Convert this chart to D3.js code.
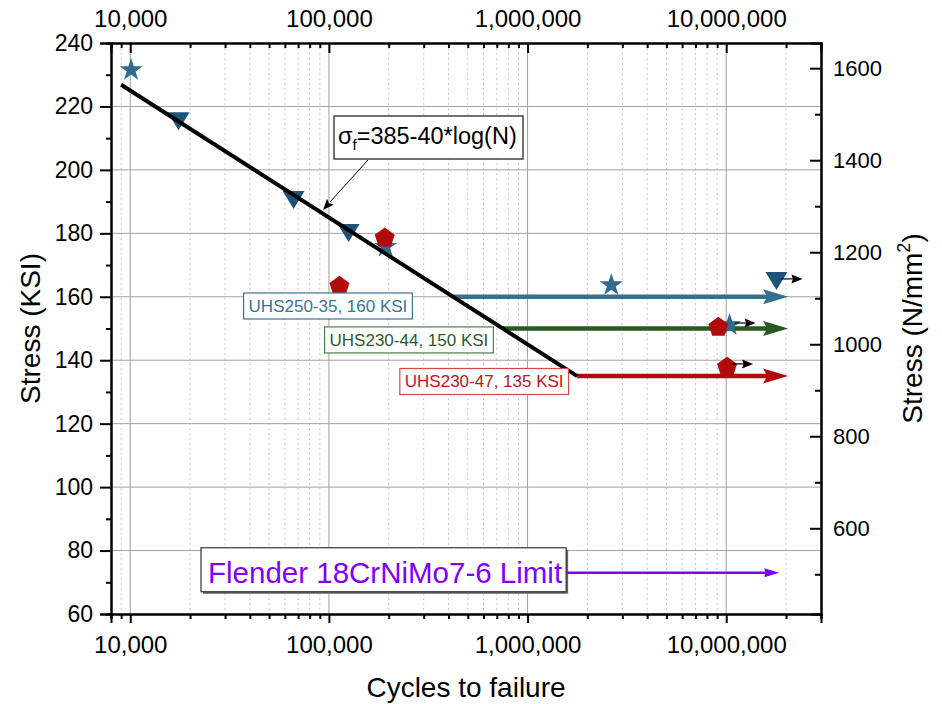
<!DOCTYPE html>
<html>
<head>
<meta charset="utf-8">
<script src="https://cdn.jsdelivr.net/npm/d3@7"></script>
<style>
  body { margin: 0; background: #fff; }
  text { font-family: Arial, "Liberation Sans", sans-serif; }
</style>
</head>
<body>
<svg id="chart" width="942" height="704"></svg>
<script>
// ---- data ----
const starN = [10100, 193000, 2640000, 10400000];
const starS = [231.5, 175.8, 163.7, 151.1];
const triN = [17500, 66400, 125600, 17900000];
const triS = [215.3, 190.5, 180.1, 165.0];
const pentN = [113000, 191000, 9130000, 10100000];
const pentS = [163.7, 178.9, 150.8, 138.2];
const runoutN = [17900000, 10400000, 10100000];
const runoutS = [165.0, 151.1, 138.2];

const fitA = 385, fitB = 40;           // sigma_f = A - B*log(N)
const fitN = [9000, 1778279];

const limitNames = ["UHS250-35, 160 KSI", "UHS230-44, 150 KSI", "UHS230-47, 135 KSI"];
const limitS = [160, 150, 135];
const limitEndN = 20500000;

const flenderLabel = "Flender 18CrNiMo7-6 Limit";
const flenderS = 73;
const flenderEndN = 18500000;

const xMajor = [1e4, 1e5, 1e6, 1e7];
const yMajor = [60, 80, 100, 120, 140, 160, 180, 200, 220, 240];
const yMinor = [70, 90, 110, 130, 150, 170, 190, 210, 230];
const mpaMajor = [600, 800, 1000, 1200, 1400, 1600];
const mpaMinor = [500, 700, 900, 1100, 1300, 1500];
const KSI_TO_MPA = 6.894757;

// ---- layout ----
const L = 111, R = 821, T = 43, B = 614;
const svg = d3.select("#chart");
const x = d3.scaleLog().domain([8000, 3e7]).range([L, R]);
const y = d3.scaleLinear().domain([60, 240]).range([B, T]);
const yR = d3.scaleLinear().domain([60 * KSI_TO_MPA, 240 * KSI_TO_MPA]).range([B, T]);

const xMinor = [];
for (let e = 3; e <= 7; e++) for (let m = 2; m <= 9; m++) {
  const v = m * Math.pow(10, e);
  if (v >= 8000 && v <= 3e7) xMinor.push(v);
}

const col = {
  blue: "#34708f", blueTri: "#1b5379", blueStar: "#2e6b8e",
  green: "#2a5a20", red: "#b00a0a", purple: "#8000ff"
};

// ---- grid ----
const grid = svg.append("g");
grid.selectAll("line.xmin").data(xMinor).join("line")
  .attr("x1", d => x(d)).attr("x2", d => x(d)).attr("y1", T).attr("y2", B)
  .attr("stroke", "#c8c8c8").attr("stroke-width", 1).attr("stroke-dasharray", "2,3");
grid.selectAll("line.xmaj").data(xMajor).join("line")
  .attr("x1", d => x(d)).attr("x2", d => x(d)).attr("y1", T).attr("y2", B)
  .attr("stroke", "#a0a0a0").attr("stroke-width", 1);
grid.selectAll("line.ymaj").data(yMajor.slice(1, -1)).join("line")
  .attr("x1", L).attr("x2", R).attr("y1", d => y(d)).attr("y2", d => y(d))
  .attr("stroke", "#a0a0a0").attr("stroke-width", 1);

// ---- arrow helper ----
function arrowHead(g, xt, yt, len, hw, notch, color) {
  g.append("path")
    .attr("d", `M${xt},${yt} L${xt - len},${yt - hw} L${xt - len + notch},${yt} L${xt - len},${yt + hw} Z`)
    .attr("fill", color);
}

// ---- endurance limits (horizontal arrows) ----
const limitColors = [col.blue, col.green, col.red];
const limG = svg.append("g");
limitS.forEach((s, i) => {
  const n0 = Math.pow(10, (fitA - s) / fitB);
  const x0 = x(n0), x1 = x(limitEndN), yy = y(s);
  limG.append("line").attr("x1", x0).attr("x2", x1 - 18).attr("y1", yy).attr("y2", yy)
    .attr("stroke", limitColors[i]).attr("stroke-width", 4.5);
  arrowHead(limG, x1, yy, 25, 7.5, 4, limitColors[i]);
});

// ---- markers ----
const mk = svg.append("g");
const starSym = d3.symbol().type(d3.symbolStar).size(165)();
mk.selectAll("path.star").data(starN.map((n, i) => [n, starS[i]])).join("path")
  .attr("d", starSym).attr("transform", d => `translate(${x(d[0])},${y(d[1])})`)
  .attr("fill", col.blueStar);

const pentPath = (() => {
  const r = 10.5, pts = [];
  for (let k = 0; k < 5; k++) {
    const a = -Math.PI / 2 + k * 2 * Math.PI / 5;
    pts.push([r * Math.cos(a), r * Math.sin(a) + 1.2]);
  }
  return "M" + pts.map(p => p.join(",")).join("L") + "Z";
})();
mk.selectAll("path.pent").data(pentN.map((n, i) => [n, pentS[i]])).join("path")
  .attr("d", pentPath).attr("transform", d => `translate(${x(d[0])},${y(d[1])})`)
  .attr("fill", col.red);

const triPath = "M-11,-9L11,-9L0,9Z";
mk.selectAll("path.tri").data(triN.map((n, i) => [n, triS[i]])).join("path")
  .attr("d", triPath).attr("transform", d => `translate(${x(d[0])},${y(d[1])})`)
  .attr("fill", col.blueTri);

// run-out arrows
runoutN.forEach((n, i) => {
  const x0 = x(n) + 5, yy = y(runoutS[i]) - 2;
  mk.append("line").attr("x1", x0).attr("x2", x0 + 12).attr("y1", yy).attr("y2", yy)
    .attr("stroke", "#000").attr("stroke-width", 1.2);
  arrowHead(mk, x0 + 21, yy, 11, 4.5, 1.5, "#000");
});

// ---- fitted line ----
svg.append("line")
  .attr("x1", x(fitN[0])).attr("y1", y(fitA - fitB * Math.log10(fitN[0])))
  .attr("x2", x(fitN[1])).attr("y2", y(fitA - fitB * Math.log10(fitN[1])))
  .attr("stroke", "#000").attr("stroke-width", 4);

// ---- Flender limit ----
const fl = svg.append("g");
const flText = fl.append("text").attr("x", 208).attr("y", y(flenderS) + 10)
  .attr("font-size", 29.5).attr("fill", col.purple).text(flenderLabel);
const fb = flText.node().getBBox();
const flBox = { x: fb.x - 7, y: y(flenderS) - 25, w: fb.width + 11, h: 44 };
fl.insert("rect", "text").attr("x", flBox.x + 2).attr("y", flBox.y + 2)
  .attr("width", flBox.w).attr("height", flBox.h).attr("fill", "#666");
fl.insert("rect", "text").attr("x", flBox.x).attr("y", flBox.y)
  .attr("width", flBox.w).attr("height", flBox.h).attr("fill", "#fff")
  .attr("stroke", "#333").attr("stroke-width", 1.2);
fl.append("line").attr("x1", flBox.x + flBox.w).attr("x2", x(flenderEndN) - 12)
  .attr("y1", y(flenderS)).attr("y2", y(flenderS))
  .attr("stroke", col.purple).attr("stroke-width", 2.5);
arrowHead(fl, x(flenderEndN), y(flenderS), 15, 4.5, 1, col.purple);

// ---- limit labels ----
const labelSpots = [[37200, 157.1], [95100, 146.4], [227500, 133.3]];
const labelBorders = ["#3b7396", "#4f7f4f", "#d04848"];
const labelText = ["#3a7396", "#2d5a27", "#c0141c"];
limitNames.forEach((name, i) => {
  const g = svg.append("g");
  const bx = x(labelSpots[i][0]), cy = y(labelSpots[i][1]);
  const t = g.append("text").attr("x", bx + 5).attr("y", cy + 6)
    .attr("font-size", 17).attr("fill", labelText[i]).text(name);
  const bb = t.node().getBBox();
  g.insert("rect", "text").attr("x", bx).attr("y", cy - 13)
    .attr("width", bb.width + 10).attr("height", 26)
    .attr("fill", "#fff").attr("stroke", labelBorders[i]).attr("stroke-width", 1.2);
});

// ---- formula annotation ----
const fg = svg.append("g");
const fx = 334, fy = 116;
fg.append("line").attr("x1", 368).attr("y1", 160).attr("x2", 330).attr("y2", 202)
  .attr("stroke", "#000").attr("stroke-width", 1);
fg.append("path").attr("d", "M0,0 L-11,-4.5 L-9,0 L-11,4.5 Z")
  .attr("transform", `translate(323,210) rotate(${Math.atan2(210 - 160, 323 - 368) * 180 / Math.PI})`)
  .attr("fill", "#000");
fg.append("rect").attr("x", fx).attr("y", fy).attr("width", 189).attr("height", 43)
  .attr("fill", "#fff").attr("stroke", "#444").attr("stroke-width", 1.5);
const ft = fg.append("text").attr("x", fx + 4).attr("y", fy + 28).attr("font-size", 23.5).attr("fill", "#000");
ft.append("tspan").text("σ");
ft.append("tspan").attr("font-size", 15).attr("dy", 6).text("f");
ft.append("tspan").attr("dy", -6).text("=385-40*log(N)");

// ---- axes ----
const fmt = d3.format(",");
function styleAxis(g) {
  g.select(".domain").attr("stroke", "#000").attr("stroke-width", 2);
  g.selectAll(".tick line").attr("stroke", "#000").attr("stroke-width", 2);
}
// bottom
svg.append("g").attr("transform", `translate(0,${B})`)
  .call(d3.axisBottom(x).tickValues(xMinor).tickSize(5).tickFormat(""))
  .call(styleAxis);
const axB = svg.append("g").attr("transform", `translate(0,${B})`)
  .call(d3.axisBottom(x).tickValues(xMajor).tickSize(9).tickPadding(13).tickFormat(fmt))
  .call(styleAxis);
axB.selectAll("text").attr("font-size", 24).attr("fill", "#000")
  .attr("font-family", "Arial, 'Liberation Sans', sans-serif");
// top
svg.append("g").attr("transform", `translate(0,${T})`)
  .call(d3.axisTop(x).tickValues(xMinor).tickSize(-5).tickFormat(""))
  .call(styleAxis);
const axT = svg.append("g").attr("transform", `translate(0,${T})`)
  .call(d3.axisTop(x).tickValues(xMajor).tickSize(-10).tickPadding(16).tickFormat(fmt))
  .call(styleAxis);
axT.selectAll("text").attr("font-size", 24).attr("fill", "#000")
  .attr("font-family", "Arial, 'Liberation Sans', sans-serif");
// left
svg.append("g").attr("transform", `translate(${L},0)`)
  .call(d3.axisLeft(y).tickValues(yMinor).tickSize(5).tickFormat(""))
  .call(styleAxis);
const axL = svg.append("g").attr("transform", `translate(${L},0)`)
  .call(d3.axisLeft(y).tickValues(yMajor).tickSize(11).tickPadding(7).tickFormat(d3.format("d")))
  .call(styleAxis);
axL.selectAll("text").attr("font-size", 23).attr("fill", "#000")
  .attr("font-family", "Arial, 'Liberation Sans', sans-serif");
// right
svg.append("g").attr("transform", `translate(${R},0)`)
  .call(d3.axisRight(yR).tickValues(mpaMinor).tickSize(-6).tickFormat(""))
  .call(styleAxis);
const axR = svg.append("g").attr("transform", `translate(${R},0)`)
  .call(d3.axisRight(yR).tickValues(mpaMajor).tickSize(-11).tickPadding(12).tickFormat(d3.format("d")))
  .call(styleAxis);
axR.selectAll("text").attr("font-size", 22).attr("fill", "#000")
  .attr("font-family", "Arial, 'Liberation Sans', sans-serif");

// ---- titles ----
svg.append("text").attr("transform", `translate(40,${(T + B) / 2}) rotate(-90)`)
  .attr("text-anchor", "middle").attr("font-size", 28).text("Stress (KSI)");
const rt = svg.append("text").attr("transform", `translate(922,${(T + B) / 2}) rotate(-90)`)
  .attr("text-anchor", "middle").attr("font-size", 28);
rt.append("tspan").text("Stress (N/mm");
rt.append("tspan").attr("font-size", 18).attr("dy", -12).text("2");
rt.append("tspan").attr("dy", 12).text(")");
svg.append("text").attr("x", (L + R) / 2).attr("y", 697)
  .attr("text-anchor", "middle").attr("font-size", 28).text("Cycles to failure");
</script>
</body>
</html>
